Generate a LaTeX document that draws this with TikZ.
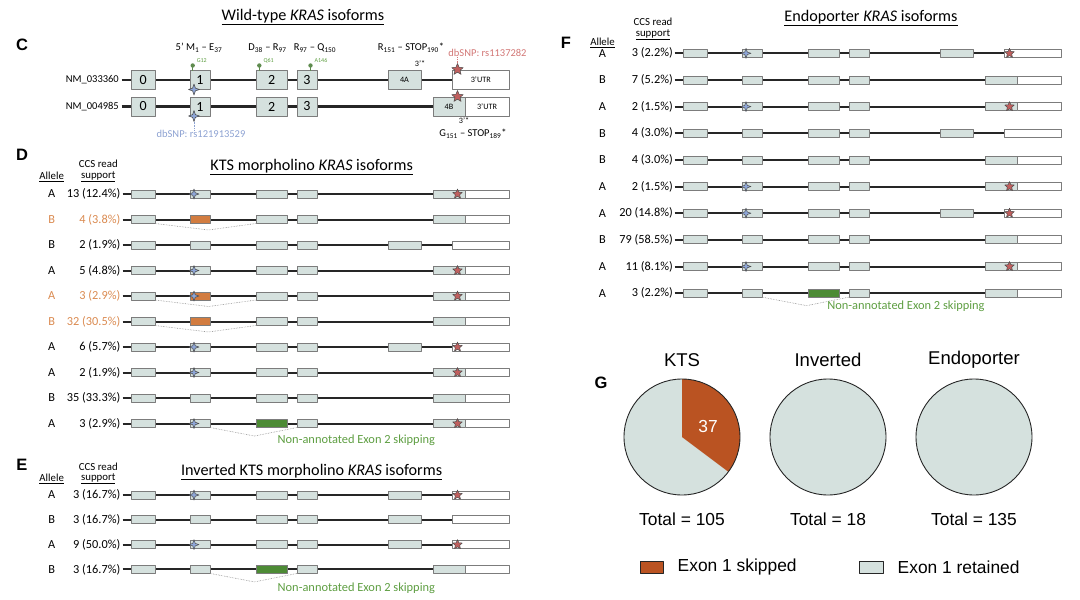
\documentclass[tikz,border=0pt]{standalone}
\usepackage{fontspec}
\setmainfont{Carlito}
\newfontfamily\arialfont{Liberation Sans}
\usetikzlibrary{shapes.geometric}

\definecolor{exgrey}{HTML}{D5E1DE}
\definecolor{exedge}{HTML}{7C7C7C}
\definecolor{exorange}{HTML}{D27C40}
\definecolor{txorange}{HTML}{DA8A50}
\definecolor{exgreen}{HTML}{4D8B35}
\definecolor{txgreen}{HTML}{5E9E42}
\definecolor{lolli}{HTML}{5F8C4F}
\definecolor{snpblue}{HTML}{8EA6D8}
\definecolor{txblue}{HTML}{8DA2D2}
\definecolor{snpred}{HTML}{C05F5E}
\definecolor{txred}{HTML}{D27776}
\definecolor{piered}{HTML}{BA5322}

\tikzset{
  exon/.style={draw=exedge,line width=0.8pt,fill=exgrey},
  utr/.style={exon,fill=white},
  cexon/.style={exon,inner sep=0pt,minimum height=19pt,font=\fontsize{14}{14}\selectfont},
  intron/.style={draw=black!85,line width=2pt},
  skipline/.style={draw=black!45,line width=0.6pt,densely dotted},
  redsnp/.style={star,star points=5,star point ratio=2.2,minimum size=10pt,inner sep=0pt,fill=snpred,draw=black!70,line width=0.5pt},
  bluesnp/.style={fill=snpblue,draw=black!70,line width=0.5pt},
  paneltag/.style={font=\arialfont\bfseries\fontsize{16.5}{18}\selectfont},
  isotitle/.style={font=\fontsize{16.2}{18}\selectfont},
  colhead/.style={font=\fontsize{10.8}{12}\selectfont},
  rowlab/.style={font=\fontsize{12.3}{14}\selectfont},
  ann/.style={font=\fontsize{10.5}{12}\selectfont},
  exlab/.style={font=\fontsize{8.2}{9}\selectfont},
  skiptext/.style={font=\fontsize{12.4}{14}\selectfont,text=txgreen,anchor=west},
  pielab/.style={font=\arialfont\fontsize{17.4}{19}\selectfont},
  pieedge/.style={draw=black!85,line width=0.9pt},
}

% blue four-point dbSNP mark: x, y, radius
\newcommand{\snpmark}[3]{\draw[bluesnp] (#1,#2) ++(0,-#3) -- ++(0.25*#3,0.75*#3) -- ++(0.75*#3,0.25*#3) -- ++(-0.75*#3,0.25*#3) -- ++(-0.25*#3,0.75*#3) -- ++(-0.25*#3,-0.75*#3) -- ++(-0.75*#3,-0.25*#3) -- ++(0.75*#3,-0.25*#3) -- cycle;}

% one isoform: x0, y, exon-1 fill, exon-2 fill, 3' end (1 = 4A, 2 = 4B), blue snp, red snp, skipped exon
\newcommand{\isorow}[8]{%
  \begin{scope}[shift={(#1,#2)}]
    \ifnum#5=1
      \draw[intron] (-9,0) -- (321,0);
      \draw[exon] (256.5,-4) rectangle (289.5,4);
      \draw[utr] (321,-4) rectangle (377.5,4);
    \else
      \draw[intron] (-9,0) -- (301.5,0);
      \draw[exon] (301.5,-4) rectangle (333.5,4);
      \draw[utr] (333.5,-4) rectangle (377.5,4);
    \fi
    \draw[exon] (0,-4) rectangle (23.5,4);
    \draw[exon,fill=#3] (58.5,-4) rectangle (78.5,4);
    \draw[exon,fill=#4] (124.5,-4) rectangle (156,4);
    \draw[exon] (165.5,-4) rectangle (185.5,4);
    \ifnum#8=1 \draw[skipline] (23.5,4) -- (77,10.5) -- (124.5,4);\fi
    \ifnum#8=2 \draw[skipline] (78.5,4) -- (123,12.5) -- (165.5,4);\fi
    \ifnum#6=1 \snpmark{62.5}{0}{5}\fi
    \ifnum#7=1 \node[redsnp] (rs) at (326,0) {};\fi
  \end{scope}}

\begin{document}
\begin{tikzpicture}[x=1pt,y=-1pt,line join=round,inner sep=0.5pt]
\useasboundingbox (0,0) rectangle (1080,600);

% C: wild-type isoforms
\node[paneltag] (tagC) at (22,45) {C};
\node[isotitle] (titleC) at (303,17) {\underline{Wild-type \textit{KRAS} isoforms}};
\node[ann] (aC1) at (199,48) {5' M\textsubscript{1} -- E\textsubscript{37}};
\node[ann] (aC2) at (267.5,48) {D\textsubscript{38} -- R\textsubscript{97}};
\node[ann] (aC3) at (315,48) {R\textsubscript{97} -- Q\textsubscript{150}};
\node[ann] (aC4) at (411,48) {R\textsubscript{151} -- STOP\textsubscript{190}*};
\node[ann,anchor=east] (nm1) at (119.5,80) {NM\_033360};
\node[ann,anchor=east] (nm2) at (119.5,106.5) {NM\_004985};
\begin{scope}[shift={(131.5,0)}]
  \draw[intron,line width=2.4pt] (-10,80) -- (321,80);
  \draw[intron,line width=2.4pt] (-10,106.5) -- (301.5,106.5);
  \foreach \r/\yy in {1/80,2/106.5}{
    \node[cexon,minimum width=23.5pt] (c\r-e0) at (11.75,\yy) {0};
    \node[cexon,minimum width=20pt] (c\r-e1) at (68.5,\yy) {1};
    \node[cexon,minimum width=31.5pt] (c\r-e2) at (140.25,\yy) {2};
    \node[cexon,minimum width=20pt] (c\r-e3) at (175.5,\yy) {3};
    \snpmark{62.5}{\yy+9.5}{5.5}
  }
  \node[cexon,minimum width=33pt,exlab] (c1-e4) at (273,80) {4A};
  \node[cexon,fill=white,minimum width=56.5pt,exlab] (c1-utr) at (349.25,80) {3'UTR};
  \node[cexon,minimum width=32pt,exlab] (c2-e4) at (317.5,106.5) {4B};
  \node[cexon,fill=white,minimum width=44pt,exlab] (c2-utr) at (355.5,106.5) {3'UTR};
  \foreach \lx/\lt in {61.2/G12,127.8/Q61,179/A146}{
    \draw[lolli,line width=0.8pt] (\lx,70.5) -- (\lx,65.5);
    \fill[lolli] (\lx,65.5) circle (2.2);
    \node[font=\fontsize{6}{7}\selectfont,text=txgreen,anchor=west] (lp-\lt) at (\lx+3.5,60.5) {\lt};
  }
  \node[redsnp,minimum size=12pt] (c1-star) at (326,69.5) {};
  \node[redsnp,minimum size=12pt] (c2-star) at (326,96.5) {};
  \coordinate (c2-snp) at (62.5,121.5);
\end{scope}
\node[ann,text=txred] (snpR) at (487.5,53) {dbSNP: rs1137282};
\draw[txred,densely dotted,line width=0.6pt] (c1-star.north) -- (c1-star.north |- snpR.south);
\node[ann,text=txblue] (snpB) at (201,134) {dbSNP: rs121913529};
\draw[txblue,densely dotted,line width=0.6pt] (c2-snp) -- (c2-snp |- snpB.north);
\node[exlab] (p3a) at (420,63.5) {3'*};
\node[exlab] (p3b) at (464,121) {3'*};
\node[ann] (aC5) at (473,134) {G\textsubscript{151} -- STOP\textsubscript{189}*};

% D: KTS morpholino
\node[paneltag] (tagD) at (22,155) {D};
\node[isotitle] (titleD) at (311.7,166.7) {\underline{KTS morpholino \textit{KRAS} isoforms}};
\node[colhead] (d-all) at (51.7,177) {\underline{Allele}};
\node[colhead] (d-ccs) at (98.3,164) {CCS read};
\node[colhead] (d-sup) at (98.3,177) {\underline{support}};
\foreach \i/\al/\ct/\tc/\ea/\eb/\en/\sb/\sr/\sk [evaluate=\i as \yy using 194+25.5*\i] in {
  0/A/13 (12.4\%)/black/exgrey/exgrey/2/1/1/0,
  1/B/4 (3.8\%)/txorange/exorange/exgrey/2/0/0/1,
  2/B/2 (1.9\%)/black/exgrey/exgrey/1/0/0/0,
  3/A/5 (4.8\%)/black/exgrey/exgrey/2/1/1/0,
  4/A/3 (2.9\%)/txorange/exorange/exgrey/2/1/1/1,
  5/B/32 (30.5\%)/txorange/exorange/exgrey/2/0/0/1,
  6/A/6 (5.7\%)/black/exgrey/exgrey/1/1/1/0,
  7/A/2 (1.9\%)/black/exgrey/exgrey/2/1/1/0,
  8/B/35 (33.3\%)/black/exgrey/exgrey/2/0/0/0,
  9/A/3 (2.9\%)/black/exgrey/exgreen/2/1/1/2}{
  \node[rowlab,text=\tc] (d-al-\i) at (51.7,\yy) {\al};
  \node[rowlab,text=\tc,anchor=east] (d-ct-\i) at (121,\yy) {\ct};
  \isorow{131.5}{\yy}{\ea}{\eb}{\en}{\sb}{\sr}{\sk}
}
\node[skiptext] (d-skip) at (277,440) {Non-annotated Exon 2 skipping};

% E: inverted KTS morpholino
\node[paneltag] (tagE) at (22,465) {E};
\node[isotitle] (titleE) at (311.6,472) {\underline{Inverted KTS morpholino \textit{KRAS} isoforms}};
\node[colhead] (e-all) at (51.7,479) {\underline{Allele}};
\node[colhead] (e-ccs) at (98.3,467) {CCS read};
\node[colhead] (e-sup) at (98.3,479) {\underline{support}};
\foreach \i/\al/\ct/\eb/\en/\sb/\sr/\sk [evaluate=\i as \yy using 495+24.8*\i] in {
  0/A/3 (16.7\%)/exgrey/1/1/1/0,
  1/B/3 (16.7\%)/exgrey/1/0/0/0,
  2/A/9 (50.0\%)/exgrey/1/1/1/0,
  3/B/3 (16.7\%)/exgreen/2/0/0/2}{
  \node[rowlab] (e-al-\i) at (51.7,\yy) {\al};
  \node[rowlab,anchor=east] (e-ct-\i) at (121,\yy) {\ct};
  \isorow{131.5}{\yy}{exgrey}{\eb}{\en}{\sb}{\sr}{\sk}
}
\node[skiptext] (e-skip) at (277,588) {Non-annotated Exon 2 skipping};

% F: Endoporter
\node[paneltag] (tagF) at (566,43) {F};
\node[isotitle] (titleF) at (871,18) {\underline{Endoporter \textit{KRAS} isoforms}};
\node[colhead] (f-all) at (602.5,42.7) {\underline{Allele}};
\node[colhead] (f-ccs) at (653,21.7) {CCS read};
\node[colhead] (f-sup) at (653,35) {\underline{support}};
\foreach \i/\al/\ct/\eb/\en/\sb/\sr/\sk [evaluate=\i as \yy using 53.3+26.65*\i] in {
  0/A/3 (2.2\%)/exgrey/1/1/1/0,
  1/B/7 (5.2\%)/exgrey/2/0/0/0,
  2/A/2 (1.5\%)/exgrey/2/1/1/0,
  3/B/4 (3.0\%)/exgrey/1/0/0/0,
  4/B/4 (3.0\%)/exgrey/2/0/0/0,
  5/A/2 (1.5\%)/exgrey/2/1/1/0,
  6/A/20 (14.8\%)/exgrey/1/1/1/0,
  7/B/79 (58.5\%)/exgrey/2/0/0/0,
  8/A/11 (8.1\%)/exgrey/2/1/1/0,
  9/A/3 (2.2\%)/exgreen/2/0/0/2}{
  \node[rowlab] (f-al-\i) at (602.5,\yy) {\al};
  \node[rowlab,anchor=east] (f-ct-\i) at (673.5,\yy) {\ct};
  \isorow{683.5}{\yy}{exgrey}{\eb}{\en}{\sb}{\sr}{\sk}
}
\node[skiptext] (f-skip) at (826.6,306.7) {Non-annotated Exon 2 skipping};

% G: exon 1 retention
\node[paneltag] (tagG) at (601,383) {G};
\foreach \cx/\nm/\tot in {682/KTS/105,828/Inverted/18,974/Endoporter/135}{
  \fill[exgrey] (\cx,437) circle (58);
  \node[pielab,font=\arialfont\fontsize{18.5}{20}\selectfont] (g-\nm) at (\cx,360) {\nm};
  \node[pielab] (g-tot-\nm) at (\cx,519) {Total = \tot};
}
\fill[piered] (682,437) -- ++(-90:58) arc[start angle=-90,end angle=36.87,radius=58] -- cycle;
\foreach \cx in {682,828,974} \draw[pieedge] (\cx,437) circle (58);
\node[pielab,text=white] (g-37) at (708,427) {37};
\draw[pieedge,fill=piered] (640,561) rectangle (663,573);
\node[pielab,anchor=west] (g-leg1) at (677,567) {Exon 1 skipped};
\draw[pieedge,fill=exgrey] (859,561) rectangle (883,573);
\node[pielab,anchor=west] (g-leg2) at (897,567) {Exon 1 retained};
\end{tikzpicture}
\end{document}
